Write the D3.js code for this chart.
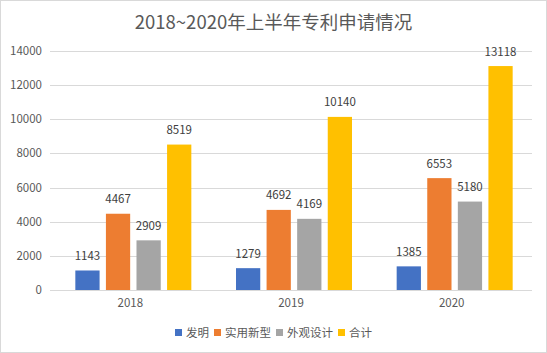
<!DOCTYPE html>
<html>
<head>
<meta charset="utf-8">
<script src="https://cdn.jsdelivr.net/npm/d3@7"></script>
<style>
  html, body { margin: 0; padding: 0; background: #fff; }
  svg { display: block; font-family: "Noto Sans CJK SC", "Liberation Sans", sans-serif; }
</style>
</head>
<body>
<svg id="chart"></svg>
<script>
/* DATA */
const years = ["2018", "2019", "2020"];
const seriesNames = ["发明", "实用新型", "外观设计", "合计"];
const invention = [1143, 1279, 1385];
const utility = [4467, 4692, 6553];
const design = [2909, 4169, 5180];
const total = [8519, 10140, 13118];
const yTicks = [0, 2000, 4000, 6000, 8000, 10000, 12000, 14000];
const titleText = "2018~2020年上半年专利申请情况";

const colors = ["#4472C4", "#ED7D31", "#A5A5A5", "#FFC000"];
const seriesValues = [invention, utility, design, total];

/* CONSTANTS */
const width = 547,
  height = 353,
  margin = { top: 51, bottom: 63, left: 50, right: 15 };

const svg = d3.select("#chart").attr("width", width).attr("height", height);

// chart border
svg.append("rect")
  .attr("x", 0.5).attr("y", 0.5)
  .attr("width", width - 1).attr("height", height - 1)
  .attr("fill", "#fff").attr("stroke", "#d9d9d9");

// title
svg.append("text")
  .attr("x", width / 2).attr("y", 29)
  .attr("text-anchor", "middle")
  .attr("font-size", 18.5)
  .attr("fill", "#595959")
  .text(titleText);

// scales
const xScale = d3.scaleBand()
  .domain(years)
  .range([margin.left, width - margin.right]);

const yScale = d3.scaleLinear()
  .domain([0, 14000])
  .range([height - margin.bottom, margin.top]);

const barW = 23, barStep = 29;
const xInner = d3.scaleBand()
  .domain(seriesNames)
  .range([0, barStep * 4])
  .paddingInner(6 / barStep)
  .paddingOuter(0);

// gridlines
svg.append("g")
  .selectAll("line")
  .data(yTicks)
  .join("line")
  .attr("x1", margin.left).attr("x2", width - margin.right)
  .attr("y1", d => Math.round(yScale(d)) + 0.5)
  .attr("y2", d => Math.round(yScale(d)) + 0.5)
  .attr("stroke", "#d9d9d9");

// y labels
svg.append("g")
  .selectAll("text")
  .data(yTicks)
  .join("text")
  .attr("x", 42)
  .attr("y", d => yScale(d) + 4)
  .attr("text-anchor", "end")
  .attr("font-size", 11.5)
  .attr("fill", "#595959")
  .text(d => d);

// x labels
svg.append("g")
  .selectAll("text")
  .data(years)
  .join("text")
  .attr("x", d => xScale(d) + xScale.bandwidth() / 2)
  .attr("y", 307)
  .attr("text-anchor", "middle")
  .attr("font-size", 11.5)
  .attr("fill", "#595959")
  .text(d => d);

// bars
const flat = [];
years.forEach((yr, i) => {
  seriesNames.forEach((s, j) => {
    flat.push({ year: yr, series: s, value: seriesValues[j][i], color: colors[j] });
  });
});

const groupOffset = d => xScale(d.year) + (xScale.bandwidth() - (barStep * 4 - 6)) / 2;

svg.append("g")
  .selectAll("rect")
  .data(flat)
  .join("rect")
  .attr("x", d => groupOffset(d) + xInner(d.series))
  .attr("y", d => yScale(d.value))
  .attr("width", xInner.bandwidth())
  .attr("height", d => yScale(0) - yScale(d.value))
  .attr("fill", d => d.color);

// value labels
svg.append("g")
  .selectAll("text")
  .data(flat)
  .join("text")
  .attr("x", d => groupOffset(d) + xInner(d.series) + xInner.bandwidth() / 2)
  .attr("y", d => yScale(d.value) - 10.5)
  .attr("text-anchor", "middle")
  .attr("font-size", 11.5)
  .attr("fill", "#404040")
  .text(d => d.value);

// legend
const legend = svg.append("g");
let lx = 0;
seriesNames.forEach((s, j) => {
  const g = legend.append("g").attr("transform", `translate(${lx},0)`);
  g.append("rect")
    .attr("x", 0).attr("y", -4)
    .attr("width", 7).attr("height", 7)
    .attr("fill", colors[j]);
  const t = g.append("text")
    .attr("x", 11).attr("y", 4)
    .attr("font-size", 11.5)
    .attr("fill", "#595959")
    .text(s);
  lx += 11 + t.node().getComputedTextLength() + 5;
});
const legendW = lx - 5;
legend.attr("transform", `translate(${(width - legendW) / 2},333)`);
</script>
</body>
</html>
